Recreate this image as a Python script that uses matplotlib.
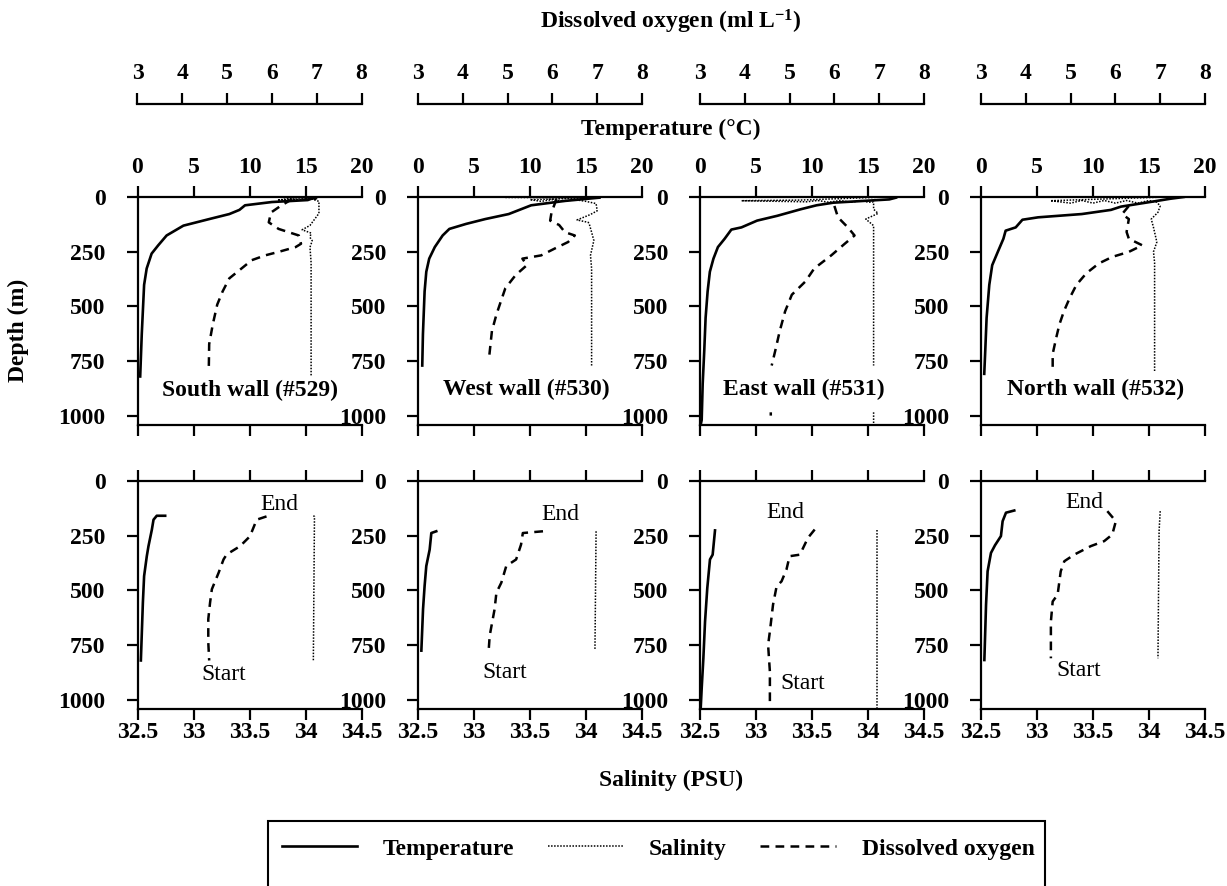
import matplotlib
matplotlib.use("Agg")
import matplotlib.pyplot as plt
from matplotlib.lines import Line2D
from matplotlib.patches import Rectangle
from matplotlib.ticker import FuncFormatter
import numpy as np

plt.rcParams['font.family'] = ['Liberation Serif', 'DejaVu Serif']
plt.rcParams['font.weight'] = 'bold'
plt.rcParams['mathtext.fontset'] = 'custom'
plt.rcParams['mathtext.rm'] = 'Liberation Serif:bold'
plt.rcParams['mathtext.bf'] = 'Liberation Serif:bold'
plt.rcParams['mathtext.default'] = 'rm'

# ---------------- data ----------------
stations = ["South wall (#529)", "West wall (#530)", "East wall (#531)", "North wall (#532)"]
temp_ticks = [0, 5, 10, 15, 20]
sal_ticks = [32.5, 33, 33.5, 34, 34.5]
do_ticks = [3, 4, 5, 6, 7, 8]
depth_ticks = [0, 250, 500, 750, 1000]

# Upper panels: full profiles (depth m, value)
up_temp_depth = [
    [3, 14, 23, 38, 59, 78, 101, 131, 176, 221, 259, 327, 402, 628, 821],
    [3, 18, 38, 78, 101, 123, 146, 176, 229, 282, 342, 432, 628, 771],
    [3, 11, 26, 38, 56, 86, 108, 139, 149, 191, 229, 282, 342, 432, 553, 703, 854, 1020, 1035],
    [0, 8, 18, 44, 59, 78, 93, 104, 139, 154, 191, 251, 312, 402, 553, 703, 809],
]
up_temp_val = [
    [15.8, 15.2, 12.0, 9.6, 9.1, 8.2, 6.4, 4.1, 2.6, 1.85, 1.26, 0.82, 0.59, 0.38, 0.24],
    [16.2, 13.1, 10.1, 8.1, 6.0, 4.3, 2.8, 2.2, 1.5, 1.0, 0.74, 0.59, 0.44, 0.38],
    [17.5, 16.9, 11.9, 10.4, 9.0, 6.9, 5.1, 3.7, 2.8, 2.2, 1.6, 1.2, 0.88, 0.68, 0.5, 0.38, 0.24, 0.15, 0.09],
    [18.1, 16.9, 15.7, 12.5, 11.6, 9.0, 5.1, 3.7, 3.1, 2.2, 2.0, 1.5, 1.0, 0.74, 0.5, 0.38, 0.29],
]
up_sal_depth = [
    [2, 8, 14, 8, 14, 8, 20, 75, 130, 150, 165, 185, 200, 230, 300, 820],
    [2, 4, 12, 20, 12, 20, 12, 20, 30, 63, 80, 105, 116, 125, 161, 199, 267, 327, 771],
    [0, 14, 17, 22, 16, 24, 16, 24, 16, 24, 23, 56, 75, 101, 131, 180, 771, np.nan, 985, 1040],
    [0, 14, 17, 28, 16, 28, 16, 28, 16, 28, 16, 24, 41, 70, 101, 139, 206, 251, 300, 801],
]
up_sal_val = [
    [33.8, 34.1, 33.75, 33.85, 33.95, 34.05, 34.12, 34.12, 34.04, 33.97, 34.05, 34.04, 34.06, 34.04, 34.05, 34.05],
    [33.28, 34.07, 33.5, 33.6, 33.7, 33.8, 33.9, 34.0, 34.09, 34.1, 34.04, 33.92, 34.02, 34.03, 34.05, 34.07, 34.04, 34.05, 34.05],
    [34.15, 33.4, 32.87, 33.45, 33.55, 33.65, 33.75, 33.85, 33.95, 34.0, 34.05, 34.05, 34.09, 33.98, 34.05, 34.05, 34.05, np.nan, 34.05, 34.05],
    [34.15, 33.3, 33.12, 33.3, 33.4, 33.5, 33.6, 33.7, 33.8, 33.9, 34.0, 34.07, 34.1, 34.08, 34.02, 34.04, 34.07, 34.04, 34.05, 34.05],
]
up_do_depth = [
    [10, 40, 71, 116, 146, 176, 214, 229, 251, 267, 289, 334, 372, 432, 492, 583, 673, 801],
    [10, 71, 108, 128, 161, 176, 206, 236, 267, 282, 312, 357, 417, 477, 538, 613, 748],
    [41, 93, 139, 176, 214, 267, 327, 387, 447, 523, 613, 703, 771, np.nan, 985, 1000],
    [41, 78, 101, 160, 191, 221, 251, 274, 304, 349, 402, 462, 523, 583, 643, 718, 801],
]
up_do_val = [
    [6.45, 6.2, 5.98, 5.93, 6.15, 6.6, 6.65, 6.53, 6.15, 5.85, 5.55, 5.28, 5.05, 4.9, 4.78, 4.68, 4.6, 4.59],
    [6.09, 5.98, 5.95, 6.15, 6.28, 6.5, 6.35, 6.05, 5.75, 5.33, 5.43, 5.18, 4.95, 4.85, 4.75, 4.65, 4.58],
    [6.0, 6.08, 6.3, 6.45, 6.23, 5.93, 5.55, 5.35, 5.05, 4.9, 4.78, 4.68, 4.6, np.nan, 4.58, 4.58],
    [6.3, 6.15, 6.3, 6.25, 6.3, 6.6, 6.3, 5.93, 5.63, 5.35, 5.13, 4.98, 4.85, 4.75, 4.68, 4.6, 4.6],
]

# Lower panels: transects along the wall (Start deep -> End shallow)
lo_temp_depth = [
    [159, 159, 177, 223, 298, 344, 435, 556, 821],
    [230, 238, 314, 389, 480, 586, 776],
    [226, 337, 359, 490, 643, 811, 949, 1043],
    [135, 145, 184, 252, 294, 329, 413, 566, 819],
]
lo_temp_val = [
    [2.47, 1.72, 1.43, 1.28, 0.98, 0.83, 0.59, 0.48, 0.30],
    [1.63, 1.19, 1.04, 0.74, 0.59, 0.45, 0.30],
    [1.34, 1.13, 0.89, 0.65, 0.45, 0.30, 0.15, 0.06],
    [2.97, 2.23, 1.93, 1.78, 1.25, 0.89, 0.59, 0.45, 0.30],
]
lo_sal_depth = [
    [159, 162, 821],
    [230, 768],
    [222, 1040],
    [138, 230, 811],
]
lo_sal_val = [
    [34.07, 34.08, 34.07],
    [34.09, 34.08],
    [34.08, 34.08],
    [34.10, 34.09, 34.08],
]
lo_do_depth = [
    [162, 177, 253, 298, 336, 359, 420, 495, 556, 632, 738, 821],
    [230, 238, 291, 359, 389, 465, 511, 586, 708, 768],
    [222, 260, 337, 344, 405, 459, 482, 566, 688, 750, 872, 1025],
    [138, 184, 245, 275, 298, 337, 367, 413, 520, 551, 643, 811],
]
lo_do_val = [
    [5.88, 5.66, 5.51, 5.29, 4.99, 4.92, 4.81, 4.66, 4.62, 4.58, 4.58, 4.60],
    [5.79, 5.34, 5.30, 5.19, 4.97, 4.86, 4.75, 4.71, 4.60, 4.58],
    [5.56, 5.41, 5.23, 5.00, 4.93, 4.82, 4.71, 4.63, 4.56, 4.52, 4.56, 4.56],
    [5.82, 6.01, 5.93, 5.75, 5.45, 5.08, 4.86, 4.78, 4.71, 4.60, 4.56, 4.56],
]

# annotation positions (salinity, depth) in lower panels and station label positions
end_pos = [(33.77, 109), (33.77, 155), (33.26, 146), (33.42, 100)]
start_pos = [(33.27, 883), (33.27, 878), (33.42, 928), (33.37, 869)]
label_pos = [(10.0, 885), (9.7, 880), (9.3, 880), (10.2, 880)]

# ---------------- layout ----------------
W, H = 1227, 886
fig = plt.figure(figsize=(W / 100, H / 100), dpi=100)

def fx(p):
    return p / W

def fy(p):
    return 1 - p / H

col_left = [137.5, 418, 700, 981]
col_w = 224
pan_h = 228
up_bottom, lo_bottom = 425, 709
do_line = 104
DEPTH_MAX = 1043
FS = 17
LW_SP = 1.6

solid = dict(color='black', lw=1.9, ls='-')
dotted = dict(color='black', lw=1.1, ls=(0, (1, 1)))
dashed = dict(color='black', lw=1.8, ls=(0, (3.5, 2.5)))

sal_fmt = FuncFormatter(lambda v, p: '%g' % v)

def style_axes(ax, top_labels, bottom_labels):
    for s in ['left', 'top', 'bottom']:
        ax.spines[s].set_linewidth(LW_SP)
    ax.spines['right'].set_visible(False)
    ax.set_ylim(DEPTH_MAX, 0)
    ax.set_yticks(depth_ticks)
    ax.yaxis.set_ticks_position('left')
    ax.xaxis.set_ticks_position('both')
    ax.tick_params(axis='both', direction='out', length=8, width=LW_SP, labelsize=FS)
    ax.tick_params(axis='y', pad=15, right=False, labelright=False)
    ax.tick_params(axis='x', top=True, bottom=True, labeltop=top_labels, labelbottom=bottom_labels)
    ax.tick_params(axis='x', which='major', pad=6 if top_labels else 1)
    ax.patch.set_alpha(0)

for c in range(4):
    l = col_left[c]
    # dissolved oxygen scale (top)
    axd = fig.add_axes([fx(l), fy(do_line), fx(col_w), 0.0001])
    axd.set_xlim(3, 8)
    axd.set_xticks(do_ticks)
    for s in ['left', 'right', 'bottom']:
        axd.spines[s].set_visible(False)
    axd.spines['top'].set_linewidth(LW_SP)
    axd.set_yticks([])
    axd.xaxis.set_ticks_position('top')
    axd.tick_params(axis='x', direction='out', length=8, width=LW_SP, labelsize=FS, pad=6)
    axd.patch.set_alpha(0)

    # upper panel
    ax = fig.add_axes([fx(l), fy(up_bottom), fx(col_w), pan_h / H])
    ax.set_xlim(0, 20)
    ax.set_ylim(DEPTH_MAX, 0)
    ax.plot(up_temp_val[c], up_temp_depth[c], **solid)
    axs = ax.twiny()
    axs.set_xlim(32.5, 34.5)
    axs.set_axis_off()
    axs.plot(up_sal_val[c], up_sal_depth[c], **dotted)
    axo = ax.twiny()
    axo.set_xlim(3, 8)
    axo.set_axis_off()
    axo.plot(up_do_val[c], up_do_depth[c], **dashed)
    ax.set_xticks(temp_ticks)
    style_axes(ax, True, False)
    ax.text(label_pos[c][0], label_pos[c][1], stations[c], ha='center', va='center',
            fontsize=FS, fontweight='bold')

    # lower panel
    bx = fig.add_axes([fx(l), fy(lo_bottom), fx(col_w), pan_h / H])
    bx.set_xlim(32.5, 34.5)
    bx.set_ylim(DEPTH_MAX, 0)
    bx.plot(lo_sal_val[c], lo_sal_depth[c], **dotted)
    bxt = bx.twiny()
    bxt.set_xlim(0, 20)
    bxt.set_axis_off()
    bxt.plot(lo_temp_val[c], lo_temp_depth[c], **solid)
    bxo = bx.twiny()
    bxo.set_xlim(3, 8)
    bxo.set_axis_off()
    bxo.plot(lo_do_val[c], lo_do_depth[c], **dashed)
    bx.set_xticks(sal_ticks)
    bx.xaxis.set_major_formatter(sal_fmt)
    style_axes(bx, False, True)
    bx.text(end_pos[c][0], end_pos[c][1], 'End', ha='center', va='center',
            fontsize=FS, fontweight='normal')
    bx.text(start_pos[c][0], start_pos[c][1], 'Start', ha='center', va='center',
            fontsize=FS, fontweight='normal')

# axis titles
fig.text(fx(671), fy(22), 'Dissolved oxygen (ml L$^{-1}$)', ha='center', va='center', fontsize=FS, fontweight='bold')
fig.text(fx(671), fy(129), 'Temperature (°C)', ha='center', va='center', fontsize=FS, fontweight='bold')
fig.text(fx(671), fy(780), 'Salinity (PSU)', ha='center', va='center', fontsize=FS, fontweight='bold')
fig.text(fx(18), fy(330), 'Depth (m)', ha='center', va='center', rotation=90, fontsize=FS, fontweight='bold')

# legend
handles = [Line2D([], [], **solid), Line2D([], [], **dotted), Line2D([], [], **dashed)]
labels = ['Temperature', 'Salinity', 'Dissolved oxygen']
fig.legend(handles, labels, loc='center', bbox_to_anchor=(fx(658), fy(849)), ncol=3,
           frameon=False, handlelength=3.2, handletextpad=1.1, columnspacing=1.4,
           prop={'size': FS, 'weight': 'bold'})
fig.patches.append(Rectangle((fx(268), fy(900)), fx(1045 - 268), (900 - 821) / H,
                             transform=fig.transFigure, fill=False, lw=1.5,
                             edgecolor='black', clip_on=False))

fig.savefig('out.png', dpi=100)
